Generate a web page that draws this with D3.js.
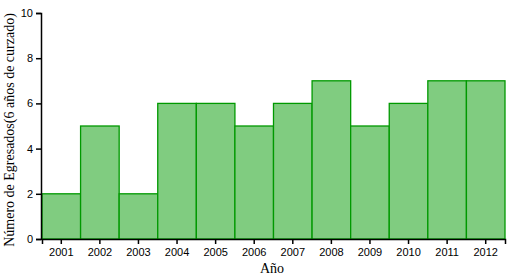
<!DOCTYPE html>
<html>
<head>
<meta charset="utf-8">
<script src="https://cdn.jsdelivr.net/npm/d3@7"></script>
<style>
  body { margin: 0; background: #fff; }
  .axis path, .axis line { stroke: #000; stroke-width: 1.5; fill: none; }
  .axis text { font-family: "Liberation Sans", Arial, sans-serif; font-size: 11px; fill: #000; }
  .label { font-family: "Liberation Serif", "Times New Roman", serif; font-size: 14px; }
</style>
</head>
<body>
<script>
'use strict';

// years and graduates per year
let years = ["2001", "2002", "2003", "2004", "2005", "2006", "2007", "2008", "2009", "2010", "2011", "2012"];
let egresados = [2, 5, 2, 6, 6, 5, 6, 7, 5, 6, 7, 7];
let yTicks = [0, 2, 4, 6, 8, 10];

let svg = d3.select('body')
  .append('svg')
  .attr('width', 530)
  .attr('height', 277);

let xScale = d3.scaleBand()
  .domain(years)
  .range([42, 505])
  .padding(0);

let yScale = d3.scaleLinear()
  .domain([0, 10])
  .range([239, 13]);

// bars
svg.selectAll('.bar')
  .data(years)
  .enter()
  .append('rect')
    .attr('x', (d) => xScale(d))
    .attr('y', (d, i) => yScale(egresados[i]))
    .attr('width', xScale.bandwidth())
    .attr('height', (d, i) => yScale(0) - yScale(egresados[i]))
    .attr('fill', '#80cc80')
    .attr('stroke', '#009900')
    .attr('stroke-width', 1.3);

// axes
svg.append('g')
  .attr('class', 'axis')
  .attr('transform', 'translate(0, 239)')
  .call(d3.axisBottom(xScale).tickSizeOuter(0).tickSize(5).tickPadding(4));

svg.append('g')
  .attr('class', 'axis')
  .attr('transform', 'translate(41, 0)')
  .call(d3.axisLeft(yScale).tickValues(yTicks).tickSizeOuter(0).tickSize(5).tickPadding(3));

// axis labels
svg.append('text')
  .attr('class', 'label')
  .attr('x', 272)
  .attr('y', 273)
  .attr('text-anchor', 'middle')
  .text('Año');

svg.append('text')
  .attr('class', 'label')
  .attr('transform', 'translate(14, 130)rotate(-90)')
  .attr('text-anchor', 'middle')
  .text('Número de Egresados(6 años de curzado)');
</script>
</body>
</html>
